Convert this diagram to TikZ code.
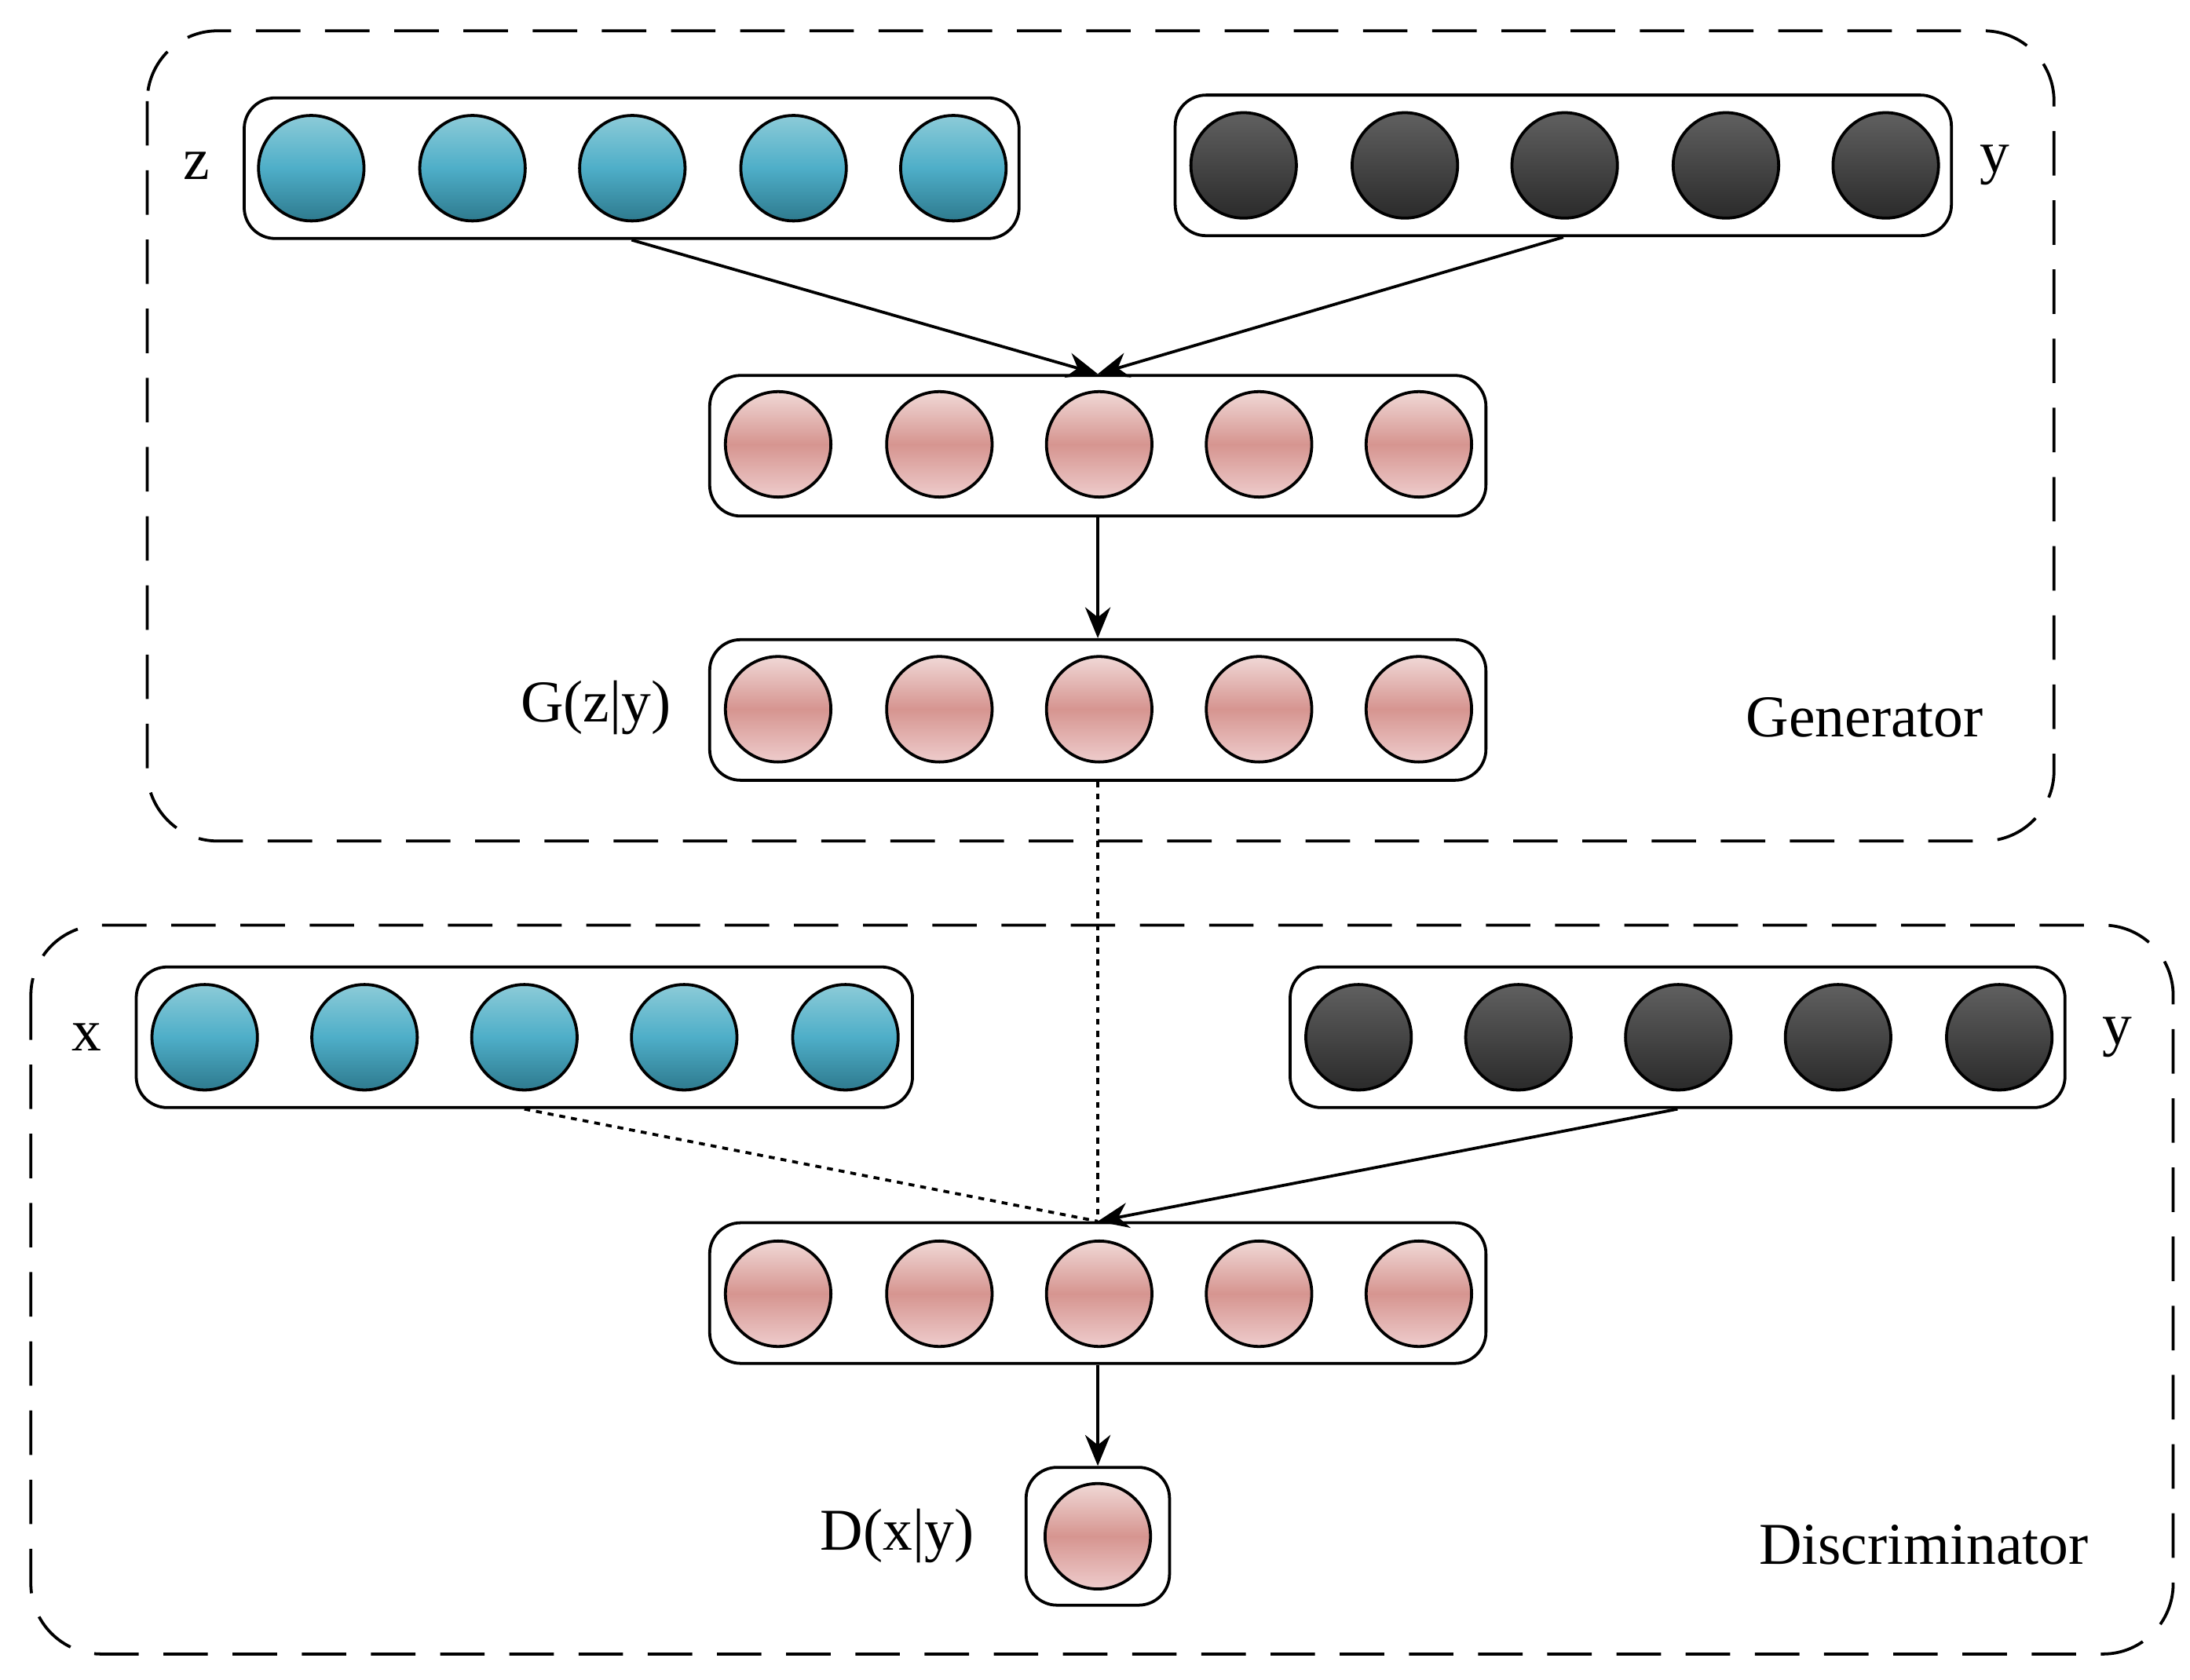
\documentclass[tikz,border=0pt]{standalone}
\usepackage{fontspec}
\setmainfont{Liberation Serif}
\usetikzlibrary{arrows.meta}
\definecolor{bt}{HTML}{8CCBD8}
\definecolor{bm}{HTML}{4EAEC8}
\definecolor{bb}{HTML}{2E7A8E}
\definecolor{pt}{HTML}{F0D8D6}
\definecolor{pm}{HTML}{D69590}
\definecolor{pb}{HTML}{EECCCC}
\definecolor{dt}{HTML}{606060}
\definecolor{db}{HTML}{2A2A2A}
\begin{document}
\begin{tikzpicture}[x=0.0997mm,y=-0.0997mm,
  grp/.style={draw,dashed,dash pattern=on 9pt off 5pt,line width=0.6pt,rounded corners=5mm},
  lay/.style={draw,line width=0.6pt,rounded corners=2.2mm,minimum height=10mm,inner sep=0pt},
  neu/.style={circle,draw,line width=0.6pt,minimum size=7.5mm,inner sep=0pt},
  blue/.style={neu,top color=bt,bottom color=bb,middle color=bm},
  dark/.style={neu,top color=dt,bottom color=db},
  pink/.style={neu,top color=pt,bottom color=pb,middle color=pm},
  lbl/.style={font=\fontsize{12}{14}\selectfont},
  arr/.style={line width=0.6pt,-{Stealth[length=2.2mm,width=1.8mm]}},
  dot/.style={line width=0.6pt,dash pattern=on 1.2pt off 1.2pt}]
\useasboundingbox (0,0) rectangle (1562,1198);
\draw[grp] (105,22) rectangle (1465,600);
\draw[grp] (22,660) rectangle (1550,1180);
% layers
\node[lay,minimum width=55.1mm] (z) at (450.5,120) {};
\node[lay,minimum width=55.2mm] (yg) at (1115,118) {};
\node[lay,minimum width=55.2mm] (h1) at (783,318) {};
\node[lay,minimum width=55.2mm] (g) at (783,506.5) {};
\node[lay,minimum width=55.2mm] (x) at (374,740) {};
\node[lay,minimum width=55.1mm] (yd) at (1196.5,740) {};
\node[lay,minimum width=55.2mm] (h2) at (783,922.5) {};
\node[lay,minimum width=10.2mm,minimum height=9.8mm] (o) at (783,1096) {};
\foreach \i/\a/\b in {1/222/887,2/337/1002,3/451/1116,4/566/1231,5/680/1345}{
  \node[blue] (z\i) at (\a,120) {};
  \node[dark] (yg\i) at (\b,118) {};}
\foreach \i/\a in {1/555,2/670,3/784,4/898,5/1012}{
  \node[pink] (ha\i) at (\a,317) {};
  \node[pink] (g\i) at (\a,506) {};
  \node[pink] (hb\i) at (\a,923) {};}
\foreach \i/\a/\b in {1/146/969,2/260/1083,3/374/1197,4/488/1311,5/603/1426}{
  \node[blue] (x\i) at (\a,740) {};
  \node[dark] (yd\i) at (\b,740) {};}
\node[pink] (o1) at (783,1096) {};
% labels
\node[lbl] (lz) at (140,118) {z};
\node[lbl] (ly1) at (1423,118) {y};
\node[lbl] (lg) at (425,505) {G(z|y)};
\node[lbl] (lgen) at (1330,512) {Generator};
\node[lbl] (lx) at (62,740) {x};
\node[lbl] (ly2) at (1510,740) {y};
\node[lbl] (ld) at (640,1096) {D(x|y)};
\node[lbl] (ldis) at (1372,1102) {Discriminator};
% connectors
\draw[arr] (z.south) -- (h1.north);
\draw[arr] (yg.south) -- (h1.north);
\draw[arr] (h1.south) -- (g.north);
\draw[dot] (g.south) -- (h2.north);
\draw[dot] (x.south) -- (h2.north);
\draw[arr] (yd.south) -- (h2.north);
\draw[arr] (h2.south) -- (o.north);
\end{tikzpicture}
\end{document}
